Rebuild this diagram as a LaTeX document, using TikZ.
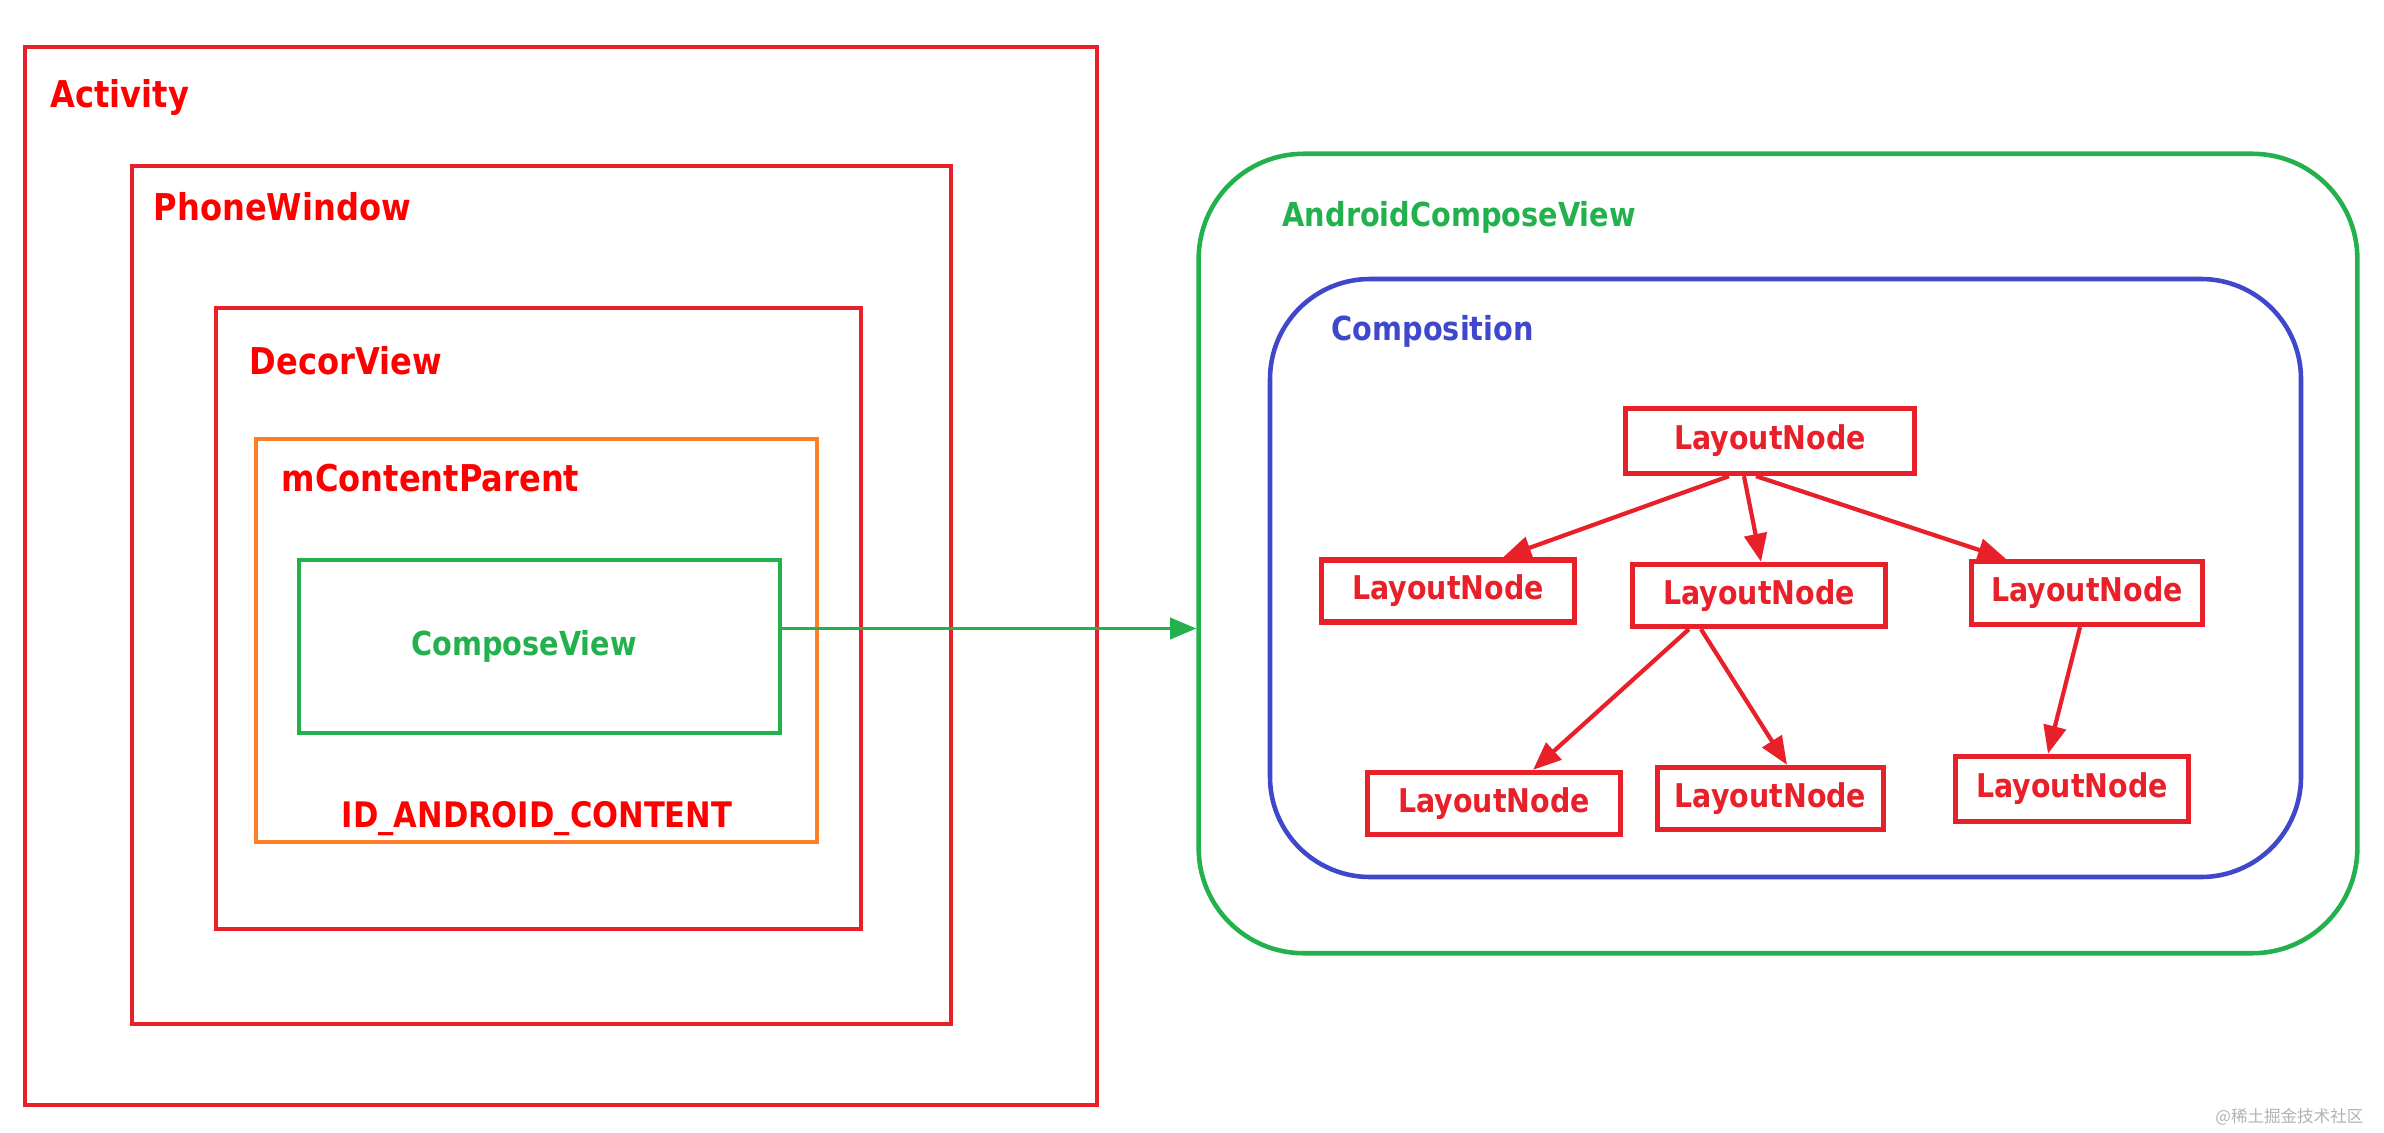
\documentclass[tikz,border=0pt]{standalone}
\usepackage{fontspec}
\usetikzlibrary{arrows.meta}
\newfontfamily\lblfont{DejaVu Sans}[FakeStretch=0.87]
\newfontfamily\wmfont{Noto Sans CJK SC}
\definecolor{framered}{HTML}{E8202A}
\definecolor{titlered}{HTML}{FF0000}
\definecolor{viewgreen}{HTML}{22B14C}
\definecolor{compblue}{HTML}{3F48CC}
\definecolor{parentorange}{HTML}{FF7F27}
\tikzset{
  frame/.style={line width=1.3pt},
  title/.style={anchor=base west, inner sep=0pt, font=\lblfont\bfseries\fontsize{#1}{12}\selectfont},
  title/.default=10.5,
  layout/.style={draw=framered, line width=1.5pt, minimum height=0.62cm, inner sep=0pt,
    text=framered, font=\lblfont\bfseries\fontsize{9.3}{11}\selectfont},
  tree/.style={-{Triangle[length=8pt,width=6.4pt]}, line width=1.2pt, framered},
}
\begin{document}
\begin{tikzpicture}[x=0.01cm, y=-0.01cm]
\useasboundingbox (0,0) rectangle (2384,1133);
% nested windows
\draw [frame, framered] (25,47) rectangle (1097,1105);
\node [title, text=titlered] (ActLabel) at (50,107) {Activity};
\draw [frame, framered] (132,166) rectangle (951,1024);
\node [title, text=titlered] (PwLabel) at (153,220) {PhoneWindow};
\draw [frame, framered] (216,308) rectangle (861,929);
\node [title, text=titlered] (DvLabel) at (249,374) {DecorView};
\draw [frame, parentorange] (256,439) rectangle (817,842);
\node [title, text=titlered] (McpLabel) at (281,491) {mContentParent};
\node [title=10, anchor=base, text=titlered] (IdLabel) at (537,827) {ID\_ANDROID\_CONTENT};
\node [draw=viewgreen, frame, minimum width=4.81cm, minimum height=1.73cm] (CV) at (539.5,646.5) {};
\node [title=9.4, anchor=base, text=viewgreen] (CvLabel) at (524,655) {ComposeView};
% compose side
\node [draw=viewgreen, frame, rounded corners=1.05cm, minimum width=11.58cm, minimum height=7.99cm] (ACV) at (1778,553.5) {};
\node [title=9.4, text=viewgreen] (AcvLabel) at (1282,226) {AndroidComposeView};
\draw [frame, compblue, rounded corners=1cm] (1270,279) rectangle (2301,877);
\node [title=9.4, text=compblue] (CompLabel) at (1331,340) {Composition};
\draw [-{Triangle[length=7.5pt,width=6pt]}, line width=1.1pt, viewgreen]
  ([yshift=0.18cm]CV.east) -- ([yshift=0.18cm]CV.east -| ACV.west);
% layout tree
\node [layout, minimum width=2.89cm, minimum height=0.65cm] (Root) at (1770,441) {LayoutNode};
\node [layout, minimum width=2.53cm] (LA) at (1448,591) {LayoutNode};
\node [layout, minimum width=2.53cm] (LB) at (1759,595.5) {LayoutNode};
\node [layout, minimum width=2.31cm, minimum height=0.63cm] (LC) at (2087,593) {LayoutNode};
\node [layout, minimum width=2.53cm] (BA) at (1494,803.5) {LayoutNode};
\node [layout, minimum width=2.26cm] (BB) at (1770.5,798.5) {LayoutNode};
\node [layout, minimum width=2.33cm, minimum height=0.65cm] (BC) at (2072,789) {LayoutNode};
\draw [tree] ([xshift=-0.41cm]Root.south) -- ([xshift=0.55cm]LA.north);
\draw [tree] ([xshift=-0.26cm]Root.south) -- ([xshift=0.02cm]LB.north);
\draw [tree] ([xshift=-0.14cm]Root.south) -- ([xshift=-0.81cm]LC.north);
\draw [tree] ([xshift=-0.70cm]LB.south) -- ([xshift=0.39cm]BA.north);
\draw [tree] ([xshift=-0.58cm]LB.south) -- ([xshift=0.165cm]BB.north);
\draw [tree] ([xshift=-0.07cm]LC.south) -- ([xshift=-0.24cm]BC.north);
% watermark
\node [anchor=base east, inner sep=0pt, text=black!30, font=\wmfont\fontsize{4.7}{5}\selectfont] (WM) at (2364,1122) {@稀土掘金技术社区};
\end{tikzpicture}
\end{document}
